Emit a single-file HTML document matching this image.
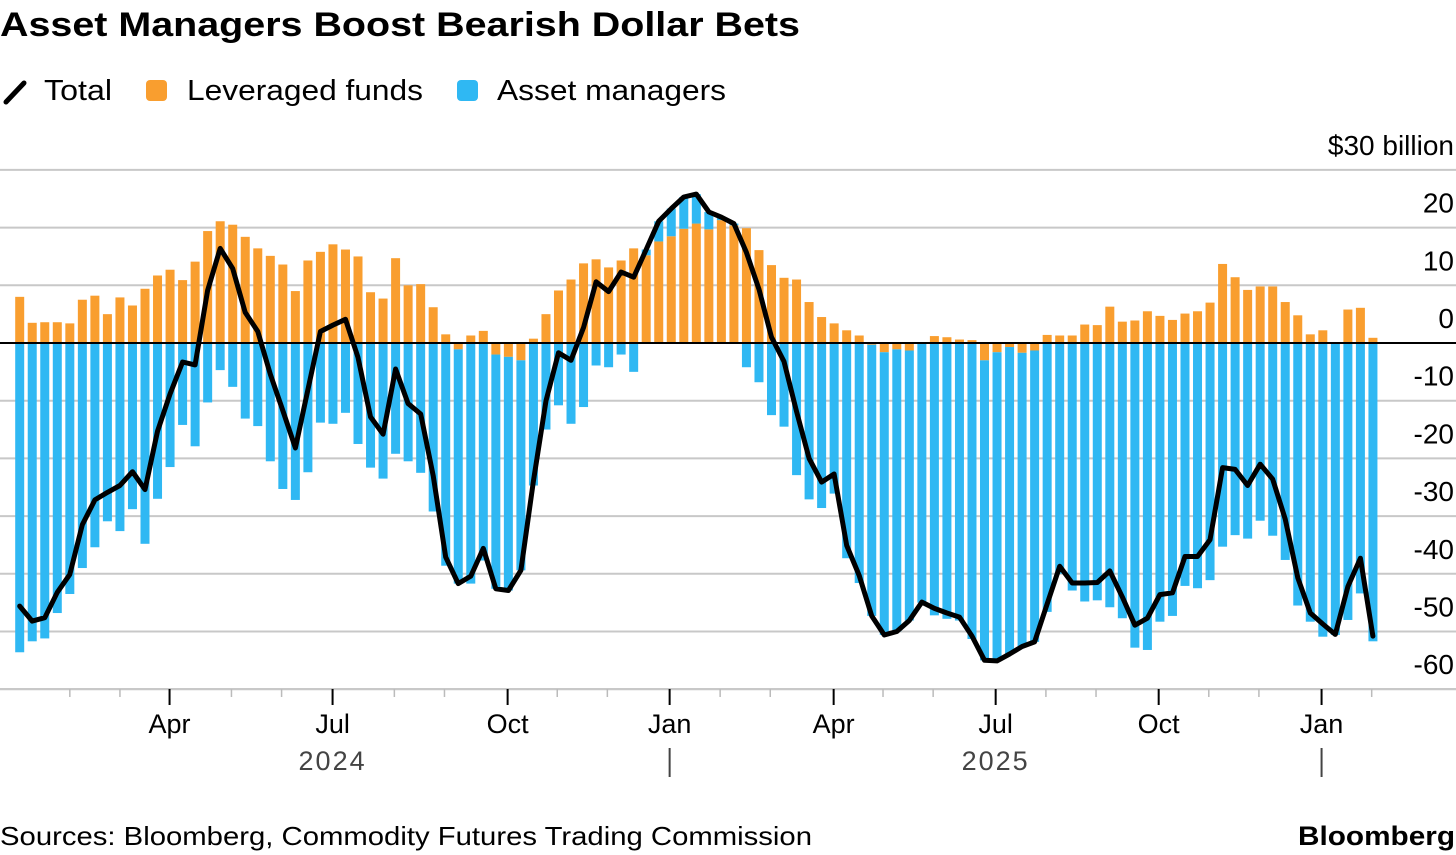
<!DOCTYPE html>
<html><head><meta charset="utf-8"><style>
html,body{margin:0;padding:0;background:#fff;}
body{width:1456px;height:855px;overflow:hidden;font-family:"Liberation Sans",sans-serif;}
svg{display:block}
</style></head><body>
<svg id="chart" width="1456" height="855" viewBox="0 0 1456 855">
<text x="0" y="36" font-size="34" font-weight="bold" fill="#000" textLength="800" lengthAdjust="spacingAndGlyphs">Asset Managers Boost Bearish Dollar Bets</text>
<g>
 <g><line x1="6" y1="102" x2="24" y2="83" stroke="#000" stroke-width="5" stroke-linecap="round"/><text x="44" y="100" font-size="29" textLength="68" lengthAdjust="spacingAndGlyphs">Total</text></g>
 <g><rect x="146" y="80" width="21" height="21" rx="4" fill="#f99e2f"/><text x="187" y="100" font-size="29" textLength="236" lengthAdjust="spacingAndGlyphs">Leveraged funds</text></g>
 <g><rect x="457" y="80" width="21" height="21" rx="4" fill="#2fb8f3"/><text x="497" y="100" font-size="29" textLength="229" lengthAdjust="spacingAndGlyphs">Asset managers</text></g>
</g>
<g id="grid"></g>
<g id="bars"></g>
<g id="axis"></g>
<g id="line"></g>
<text x="0" y="845" font-size="26" textLength="812" lengthAdjust="spacingAndGlyphs">Sources: Bloomberg, Commodity Futures Trading Commission</text>
<text x="1298" y="845" font-size="27" font-weight="bold" textLength="157" lengthAdjust="spacingAndGlyphs">Bloomberg</text>
</svg>
<script>
const leveraged = [8.0,3.5,3.6,3.6,3.4,7.5,8.2,5.0,7.9,6.5,9.4,11.7,12.7,10.9,14.1,19.4,21.1,20.5,18.4,16.4,15.1,13.6,9.0,14.3,15.8,17.1,16.2,15.0,8.8,7.7,14.7,10.0,10.2,6.2,1.5,-1.1,1.3,2.1,-2.0,-2.4,-3.0,0.75,5.0,9.1,11.0,13.8,14.5,13.1,14.3,16.4,15.2,17.6,18.5,19.8,20.7,19.7,21.3,20.4,19.9,16.1,13.5,11.3,11.0,7.1,4.5,3.4,2.2,1.3,-0.3,-1.6,-1.1,-1.3,0.1,1.2,1.0,0.6,0.5,-3.0,-1.6,-0.7,-1.7,-1.3,1.4,1.3,1.3,3.2,3.1,6.3,3.7,3.9,5.5,4.7,4.0,5.1,5.5,7.0,13.7,11.4,9.2,9.8,9.8,7.1,4.8,1.5,2.2,0.1,5.8,6.1,0.9];
const assetManagers = [-53.6,-51.7,-51.2,-46.8,-43.5,-39.0,-35.4,-30.9,-32.6,-28.8,-34.8,-27.0,-21.5,-14.2,-17.9,-10.3,-4.7,-7.6,-13.1,-14.4,-20.5,-25.3,-27.2,-22.4,-13.8,-14.0,-12.1,-17.5,-21.6,-23.5,-19.2,-20.5,-22.5,-29.2,-38.6,-40.6,-41.7,-37.7,-40.6,-40.5,-36.4,-24.7,-15.0,-10.8,-14.0,-11.1,-3.9,-4.2,-2.0,-5.0,1.0,3.5,4.8,5.5,5.1,3.0,0.5,0.3,-4.2,-6.8,-12.5,-14.5,-22.9,-27.1,-28.6,-26.1,-37.3,-41.6,-47.0,-49.0,-48.9,-46.8,-45.0,-47.2,-47.8,-48.1,-51.3,-52.0,-53.5,-53.2,-50.9,-50.5,-46.6,-40.0,-42.9,-44.8,-44.6,-45.8,-47.7,-52.8,-53.2,-48.3,-47.3,-42.1,-42.5,-41.1,-35.3,-33.3,-33.9,-30.8,-33.4,-37.6,-45.5,-48.3,-50.9,-50.6,-48.0,-43.4,-51.7];
const yTicks = [30,20,10,0,-10,-20,-30,-40,-50,-60];
const yTickLabels = ["$30 billion","20","10","0","-10","-20","-30","-40","-50","-60"];
const monthLabels = ["Apr","Jul","Oct","Jan","Apr","Jul","Oct","Jan"];
const monthWeekIndex = [11.96,24.97,38.94,51.87,64.96,77.89,90.9,103.9];
const minorWeekIndex = [4.0,8.0,16.9,20.9,29.9,33.9,42.9,46.9,55.9,59.9,68.9,72.9,81.9,85.9,94.9,98.9,107.9];
const yearLabels = ["2024","2025"];
const yearWeekIndex = [24.97,77.89];
const yearSepWeekIndex = [51.87,103.9];

const NS="http://www.w3.org/2000/svg";
const x = i => 19.7 + i*12.53;
const y = v => 343 - v*5.77;
function mk(tag, attrs, parent){const e=document.createElementNS(NS,tag);for(const k in attrs)e.setAttribute(k,attrs[k]);parent.appendChild(e);return e;}
const grid=document.getElementById('grid'), bars=document.getElementById('bars'), axis=document.getElementById('axis'), lineG=document.getElementById('line');

yTicks.forEach((v,k)=>{
  if(v!==0){const l=mk('line',{x1:0,x2:1456,y1:y(v),y2:y(v),stroke:'#c8c8c8','stroke-width':2},grid);
  
  }
  const t=mk('text',{x:1454,y:y(v)-15,'font-size':28,'text-anchor':'end',fill:'#000'},grid);
  t.textContent=yTickLabels[k];
  
  
});

const W=9;
leveraged.forEach((lv,i)=>{
  const am=assetManagers[i];
  let pos=0,neg=0;
  const seg=(val,color,name)=>{
    let a,b;
    if(val>=0){a=pos;b=pos+val;pos=b;}else{a=neg;b=neg+val;neg=b;}
    const top=Math.min(y(a),y(b)),h=Math.abs(y(a)-y(b));
    const r=mk('rect',{x:x(i)-W/2,y:top,width:W,height:h,fill:color},bars);
    
    
  };
  seg(lv,'#f99e2f','bar-leveraged-funds');
  seg(am,'#2fb8f3','bar-asset-managers');
});
const zl=mk('line',{x1:0,x2:1456,y1:y(0),y2:y(0),stroke:'#000','stroke-width':2},bars);



const base=mk('line',{x1:0,x2:1456,y1:689,y2:689,stroke:'#c8c8c8','stroke-width':2},axis);


minorWeekIndex.forEach(w=>{const t=mk('line',{x1:x(w),x2:x(w),y1:689,y2:697,stroke:'#bbb','stroke-width':1.5},axis);
  
  });
monthLabels.forEach((m,k)=>{
  const t=mk('line',{x1:x(monthWeekIndex[k]),x2:x(monthWeekIndex[k]),y1:689,y2:705,stroke:'#000','stroke-width':2},axis);
  
  
  const tx=mk('text',{x:x(monthWeekIndex[k]),y:733,'font-size':27,'text-anchor':'middle'},axis);
  tx.textContent=m;
  
  
});
yearLabels.forEach((yl,k)=>{
  const tx=mk('text',{x:x(yearWeekIndex[k]),y:770,'font-size':27,'text-anchor':'middle',fill:'#444','letter-spacing':'2'},axis);
  tx.textContent=yl;
  
  
  const s=mk('line',{x1:x(yearSepWeekIndex[k]),x2:x(yearSepWeekIndex[k]),y1:748,y2:777,stroke:'#444','stroke-width':2},axis);
  
  
});

const pts=leveraged.map((lv,i)=>x(i).toFixed(1)+','+y(lv+assetManagers[i]).toFixed(1)).join(' ');
const pl=mk('polyline',{points:pts,fill:'none',stroke:'#000','stroke-width':5,'stroke-linejoin':'round','stroke-linecap':'round'},lineG);


</script>
</body></html>
